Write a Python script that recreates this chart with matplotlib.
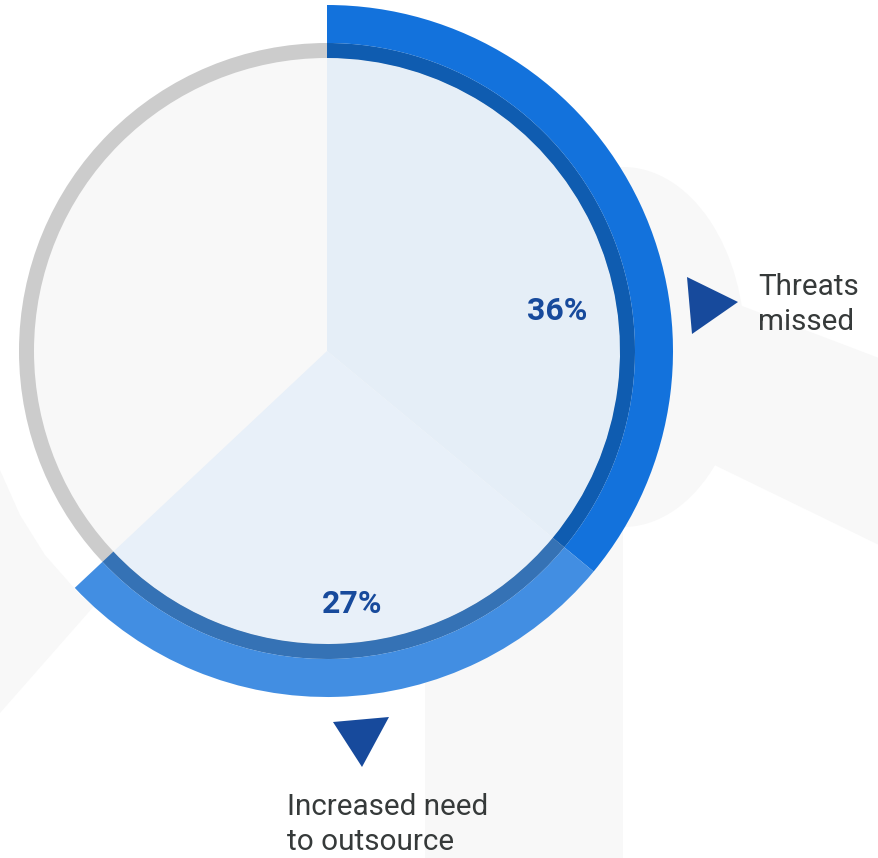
import matplotlib
matplotlib.use("Agg")
import matplotlib.pyplot as plt
from matplotlib.patches import Wedge, Circle, Ellipse, Polygon

# ---- data ----
categories = ["Threats missed", "Increased need to outsource"]
shares = [36, 27]                      # percent, clockwise from 12 o'clock
value_labels = ["36%", "27%"]
label_lines = [["Threats", "missed"], ["Increased need", "to outsource"]]

band_colors = ["#1372DC", "#428EE2"]
ring_colors = ["#0F5CB0", "#3572B5"]
inner_colors = ["#E5EEF7", "#E8F0F9"]

W, H = 879, 858
fig = plt.figure(figsize=(W / 100, H / 100), dpi=100)
ax = fig.add_axes([0, 0, 1, 1])
ax.set_xlim(0, W)
ax.set_ylim(0, H)
ax.axis("off")

def Y(y):  # image-row -> data y
    return H - y

BG = "#F8F8F8"
# ---- faint decorative background shapes ----
ax.add_patch(Polygon([(425, Y(480)), (623, Y(480)), (623, Y(858)), (425, Y(858))],
                     closed=True, fc=BG, ec="none", zorder=0))
ax.add_patch(Ellipse((623, Y(347)), 244, 360, fc=BG, ec="none", zorder=0))
ax.add_patch(Polygon([(700, Y(290)), (879, Y(358)), (879, Y(545)), (700, Y(458))],
                     closed=True, fc=BG, ec="none", zorder=0))
ax.add_patch(Polygon([(0, Y(470)), (20, Y(515)), (45, Y(555)), (82, Y(597)),
                      (95, Y(605)), (0, Y(713))],
                     closed=True, fc=BG, ec="none", zorder=0))

# ---- ring chart ----
cx, cy = 327, Y(351)
r_in, r_ring, r_out = 293, 308, 346

ax.add_patch(Circle((cx, cy), r_ring, fc="#CCCCCC", ec="none", zorder=1))
ax.add_patch(Circle((cx, cy), r_in, fc="#F8F8F8", ec="none", zorder=1))

start = 90.0
for i, s in enumerate(shares):
    sweep = s / 100 * 360
    t2 = start
    t1 = start - sweep
    ax.add_patch(Wedge((cx, cy), r_in, t1, t2, fc=inner_colors[i], ec="none", lw=0, zorder=2))
    ax.add_patch(Wedge((cx, cy), r_ring, t1, t2, width=r_ring - r_in,
                       fc=ring_colors[i], ec="none", lw=0, zorder=2))
    ax.add_patch(Wedge((cx, cy), r_out, t1, t2, width=r_out - r_ring,
                       fc=band_colors[i], ec="none", lw=0, zorder=2))
    start = t1

# value labels
DARK = "#174A9C"
ax.text(557, Y(311), value_labels[0], ha="center", va="center", fontsize=23,
        fontweight="bold", color=DARK, family="Roboto", zorder=5)
ax.text(352, Y(604), value_labels[1], ha="center", va="center", fontsize=23,
        fontweight="bold", color=DARK, family="Roboto", zorder=5)

# pointer triangles
ax.add_patch(Polygon([(687, Y(277)), (738, Y(302)), (692, Y(334))], closed=True,
                     fc=DARK, ec="none", zorder=5))
ax.add_patch(Polygon([(333, Y(722)), (389, Y(717)), (362, Y(767))], closed=True,
                     fc=DARK, ec="none", zorder=5))

# category labels
TXT = "#363A3A"
for j, line in enumerate(label_lines[0]):
    ax.text(758, Y(295 + 35 * j), line, ha="left", va="baseline", fontsize=21.3,
            color=TXT, family="Roboto", zorder=5)
for j, line in enumerate(label_lines[1]):
    ax.text(287, Y(815 + 35 * j), line, ha="left", va="baseline", fontsize=21.3,
            color=TXT, family="Roboto", zorder=5)

fig.savefig("out.png", dpi=100, facecolor="white")
